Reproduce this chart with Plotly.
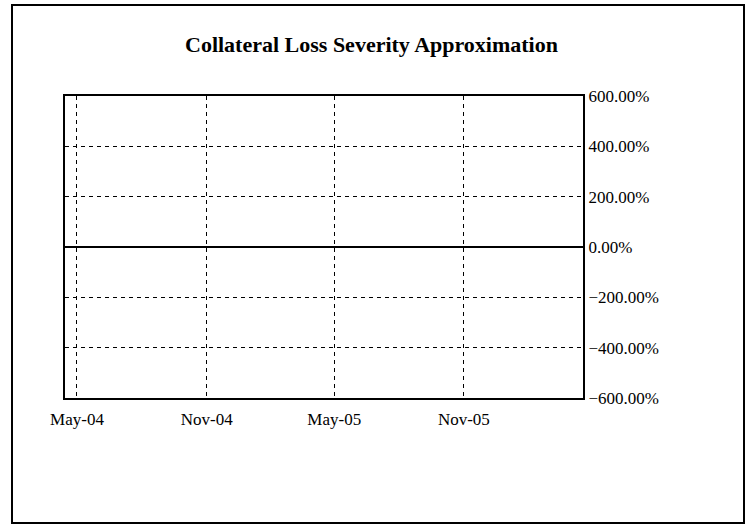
import plotly.graph_objects as go

# Monthly observation dates and the loss-severity series (no observations reported)
dates = ["2004-05-01", "2004-06-01", "2004-07-01", "2004-08-01", "2004-09-01",
         "2004-10-01", "2004-11-01", "2004-12-01", "2005-01-01", "2005-02-01",
         "2005-03-01", "2005-04-01", "2005-05-01", "2005-06-01", "2005-07-01",
         "2005-08-01", "2005-09-01", "2005-10-01", "2005-11-01", "2005-12-01",
         "2006-01-01", "2006-02-01", "2006-03-01"]
severity = [None] * len(dates)

# Axis ticks
x_tick_dates = ["2004-05-01", "2004-11-01", "2005-05-01", "2005-11-01"]
x_tick_labels = ["May-04", "Nov-04", "May-05", "Nov-05"]
y_tick_values = [-6, -4, -2, 0, 2, 4, 6]

FONT = "Liberation Serif"

fig = go.Figure()
fig.add_trace(go.Scatter(
    x=dates, y=severity, mode="lines",
    line=dict(color="#000080", width=2),
    showlegend=False,
))

fig.update_layout(
    width=750, height=524,
    margin=dict(l=65, r=167, t=96, b=126),
    paper_bgcolor="white", plot_bgcolor="white",
    font=dict(family=FONT, size=16, color="black"),
    showlegend=False,
)

fig.update_xaxes(
    type="date",
    range=["2004-04-14", "2006-04-19"],
    tickvals=x_tick_dates, ticktext=x_tick_labels,
    showgrid=True, gridcolor="black", gridwidth=1, griddash="4px,4px",
    showline=True, linecolor="black", linewidth=2, mirror=True,
    ticks="", ticklabelstandoff=5,
    tickfont=dict(family=FONT, size=17, color="black"),
    zeroline=False,
)

fig.update_yaxes(
    side="right",
    range=[-6, 6],
    tickvals=y_tick_values, tickformat=".2%",
    showgrid=True, gridcolor="black", gridwidth=1, griddash="4px,4px",
    showline=True, linecolor="black", linewidth=2, mirror=True,
    zeroline=True, zerolinecolor="black", zerolinewidth=2,
    ticks="", ticklabelstandoff=0,
    tickfont=dict(family=FONT, size=17, color="black"),
)

# Chart title
fig.add_annotation(
    text="<b>Collateral Loss Severity Approximation</b>",
    xref="paper", yref="paper", x=0.591, y=1.169,
    xanchor="center", yanchor="middle", showarrow=False,
    font=dict(family=FONT, size=22, color="black"),
)

# Frame around the whole chart
fig.add_shape(
    type="rect", xref="paper", yref="paper",
    x0=(12 - 65) / 518, x1=(744 - 65) / 518,
    y0=(398 - 523) / 302, y1=(398 - 5) / 302,
    line=dict(color="black", width=2), fillcolor="rgba(0,0,0,0)",
    layer="below",
)

fig.write_html("out.html")
